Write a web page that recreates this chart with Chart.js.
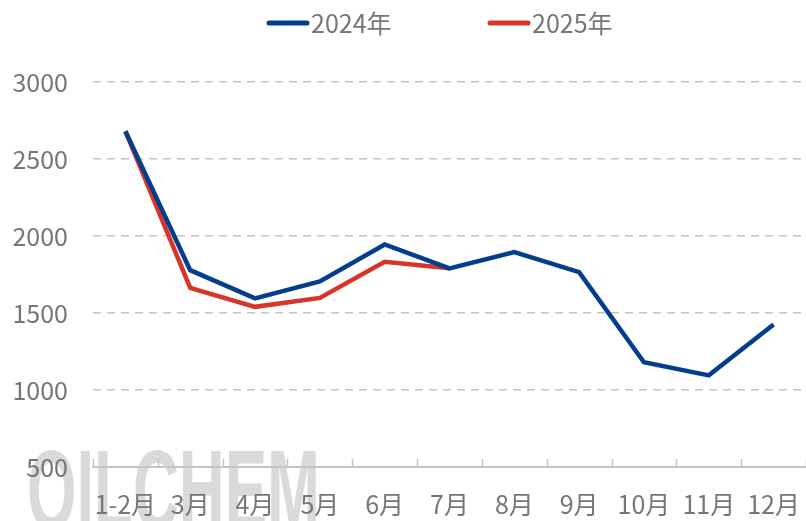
<!DOCTYPE html>
<html>
<head>
<meta charset="utf-8">
<script src="https://cdn.jsdelivr.net/npm/chart.js@4/dist/chart.umd.min.js"></script>
<style>
  html, body { margin: 0; padding: 0; background: #fff; }
  #wrap { width: 806px; height: 521px; }
</style>
</head>
<body>
<div id="wrap"><canvas id="oilCanvas"></canvas></div>
<script>
const months = ['1-2月', '3月', '4月', '5月', '6月', '7月', '8月', '9月', '10月', '11月', '12月']
const values2024 = [2680, 1778, 1595, 1705, 1945, 1790, 1895, 1765, 1180, 1095, 1425]
const values2025 = [2680, 1663, 1540, 1598, 1833, 1790]
const yTicks = [500, 1000, 1500, 2000, 2500, 3000]
const seriesNames = ['2024年', '2025年']
const seriesColors = ['#033e8c', '#d7342a']

const FONT = '"Noto Sans CJK SC", "Noto Sans", sans-serif'
const TEXT = '#767676'

// watermark, legend and small upward ticks on the category axis
const extras = {
  id: 'extras',
  beforeDraw(chart) {
    const c = chart.ctx
    c.save()
    c.font = 'bold 64px "Liberation Sans", sans-serif'
    const w = c.measureText('OILCHEM').width
    const g = c.createLinearGradient(0, 445, 0, 530)
    g.addColorStop(0, '#dadada')
    g.addColorStop(1, '#fafafa')
    c.fillStyle = g
    c.textBaseline = 'alphabetic'
    c.translate(27, 529)
    c.scale(293 / w, 1.78)
    c.fillText('OILCHEM', 0, 0)
    c.restore()
  },
  afterDraw(chart) {
    const c = chart.ctx
    const starts = [267, 488]
    c.save()
    c.font = '25px ' + FONT
    c.textBaseline = 'middle'
    c.lineCap = 'round'
    seriesNames.forEach((name, i) => {
      const x0 = starts[i]
      c.strokeStyle = seriesColors[i]
      c.lineWidth = 5
      c.beginPath()
      c.moveTo(x0 + 2, 23)
      c.lineTo(x0 + 40, 23)
      c.stroke()
      c.fillStyle = TEXT
      c.fillText(name, x0 + 44, 23)
    })
    c.restore()
  },
  afterDatasetsDraw(chart) {
    const x = chart.scales.x
    const c = chart.ctx
    const n = months.length
    c.save()
    c.strokeStyle = '#c4c4c4'
    c.lineWidth = 1.5
    for (let i = 0; i <= n; i++) {
      const px = Math.round(x.left + i * (x.width / n)) + 0.5
      c.beginPath()
      c.moveTo(px, x.top - 8)
      c.lineTo(px, x.top)
      c.stroke()
    }
    c.restore()
  }
}

const ctx = document.getElementById('oilCanvas')
const oilChart = new Chart(ctx, {
  type: 'line',
  data: {
    labels: months,
    datasets: [{
      label: seriesNames[0],
      data: values2024,
      borderColor: seriesColors[0],
      backgroundColor: seriesColors[0],
      borderWidth: 4.5,
      pointRadius: 0,
      tension: 0
    }, {
      label: seriesNames[1],
      data: values2025,
      borderColor: seriesColors[1],
      backgroundColor: seriesColors[1],
      borderWidth: 4.5,
      pointRadius: 0,
      tension: 0
    }]
  },
  options: {
    responsive: true,
    maintainAspectRatio: false,
    animation: false,
    layout: { padding: { top: 82, right: 0, bottom: 0, left: 0 } },
    plugins: {
      tooltip: { enabled: false },
      legend: { display: false }
    },
    scales: {
      x: {
        offset: true,
        grid: { display: false, offset: true },
        border: { display: true, color: '#c4c4c4', width: 2 },
        ticks: { color: TEXT, font: { family: FONT, size: 25 }, padding: 14, maxRotation: 0, autoSkip: false },
        afterFit(axis) {
          axis.height = 54
          axis.paddingLeft = 0
          axis.paddingRight = 0
        }
      },
      y: {
        min: 500,
        max: 3000,
        afterBuildTicks(axis) { axis.ticks = yTicks.map(v => ({ value: v })) },
        afterFit(axis) {
          axis.width = 93
          axis.paddingTop = 0
          axis.paddingBottom = 0
        },
        grid: { color: '#c4c4c4', lineWidth: 1.5, drawTicks: false },
        border: { display: false, dash: [8, 6] },
        ticks: { color: TEXT, font: { family: FONT, size: 25 }, padding: 25, callback: v => String(v) }
      }
    }
  },
  plugins: [extras]
})
</script>
</body>
</html>
